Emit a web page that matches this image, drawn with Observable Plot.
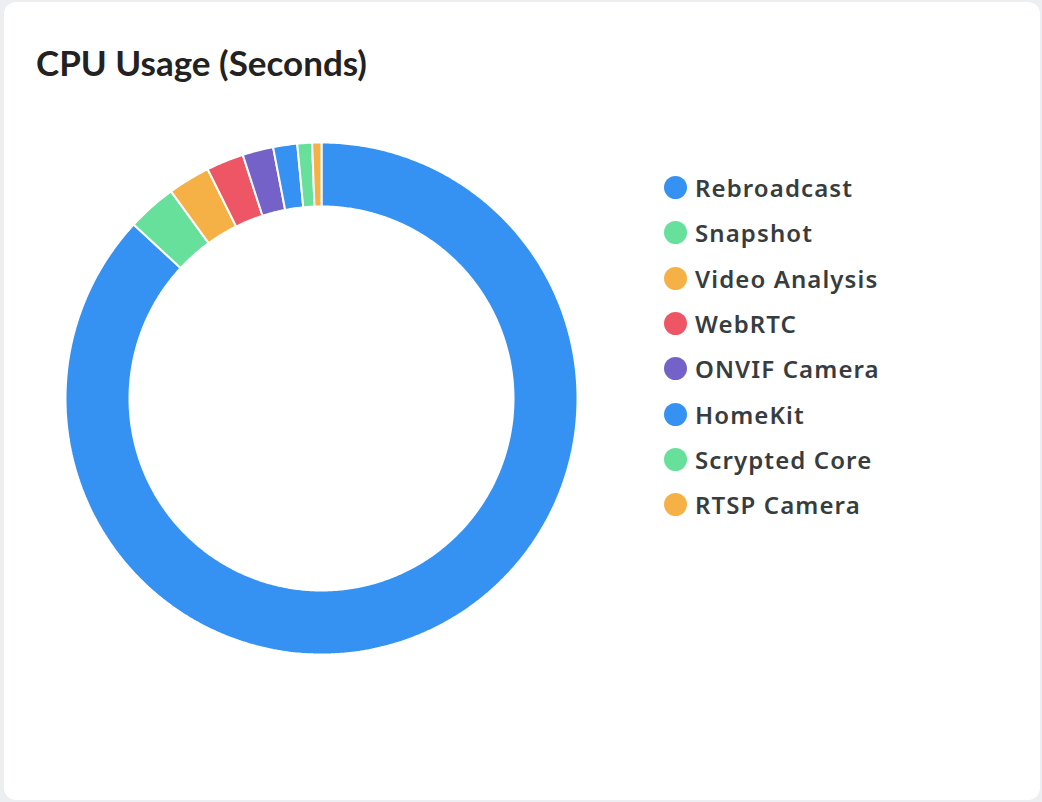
<!DOCTYPE html>
<html>
<head>
<meta charset="utf-8">
<script src="https://cdn.jsdelivr.net/npm/d3@7"></script>
<script src="https://cdn.jsdelivr.net/npm/@observablehq/plot@0.6"></script>
<style>
  html, body { margin: 0; padding: 0; }
  body { width: 1042px; height: 802px; background: #eceef1; position: relative; overflow: hidden; }
  #card {
    position: absolute; left: 4px; top: 2px; width: 1036px; height: 798px;
    background: #fff; border-radius: 12px;
  }
  #title {
    position: absolute; left: 32px; top: 39px; margin: 0;
    font-family: Lato, sans-serif; font-weight: 700; font-size: 35px; color: #222;
  }
  #chart { position: absolute; left: 33px; top: 112px; }
  #legend { position: absolute; left: 660px; top: 163px; }
  .item { display: flex; align-items: center; height: 45.3px; }
  .swatch { width: 23px; height: 23px; border-radius: 50%; margin-right: 8px; }
  .label { font-family: "Noto Sans", sans-serif; font-weight: 600; font-size: 24px; letter-spacing: 1.1px; color: #373d3f; }
</style>
</head>
<body>
<div id="card">
  <h2 id="title">CPU Usage (Seconds)</h2>
  <div id="chart"></div>
  <div id="legend"></div>
</div>
<script>
// CPU seconds per component
const categories = ["Rebroadcast", "Snapshot", "Video Analysis", "WebRTC", "ONVIF Camera", "HomeKit", "Scrypted Core", "RTSP Camera"];
const seconds = [31280, 1120, 960, 850, 700, 545, 335, 210];
const colors = ["#3592f2", "#66e09b", "#f5b146", "#ee5666", "#7462c9", "#3592f2", "#66e09b", "#f5b146"];

const rows = categories.map((name, i) => ({name, seconds: seconds[i]}));

// slice angles, clockwise from 12 o'clock
const arcs = d3.pie().sort(null).value(d => d.seconds)(rows);

// turn each slice into a closed ring segment (outer edge, then inner edge back)
const innerRatio = 0.75;
const step = Math.PI / 360;
const outline = [];
arcs.forEach(a => {
  const n = Math.max(2, Math.ceil((a.endAngle - a.startAngle) / step));
  for (let k = 0; k <= n; k++) {
    const t = a.startAngle + (a.endAngle - a.startAngle) * k / n;
    outline.push({name: a.data.name, x: Math.sin(t), y: Math.cos(t)});
  }
  for (let k = n; k >= 0; k--) {
    const t = a.startAngle + (a.endAngle - a.startAngle) * k / n;
    outline.push({name: a.data.name, x: innerRatio * Math.sin(t), y: innerRatio * Math.cos(t)});
  }
});

const size = 568;
const plot = Plot.plot({
  width: size,
  height: size,
  margin: 28,
  x: {domain: [-1, 1], axis: null},
  y: {domain: [-1, 1], axis: null},
  color: {domain: categories, range: colors},
  marks: [
    Plot.line(outline, {
      x: "x",
      y: "y",
      z: "name",
      fill: "name",
      stroke: "white",
      strokeWidth: 2,
      strokeLinejoin: "miter",
      curve: "linear-closed"
    })
  ]
});
document.getElementById("chart").appendChild(plot);

// legend
const legend = d3.select("#legend");
categories.forEach((name, i) => {
  const item = legend.append("div").attr("class", "item");
  item.append("div").attr("class", "swatch").style("background", colors[i]);
  item.append("span").attr("class", "label").text(name);
});
</script>
</body>
</html>
